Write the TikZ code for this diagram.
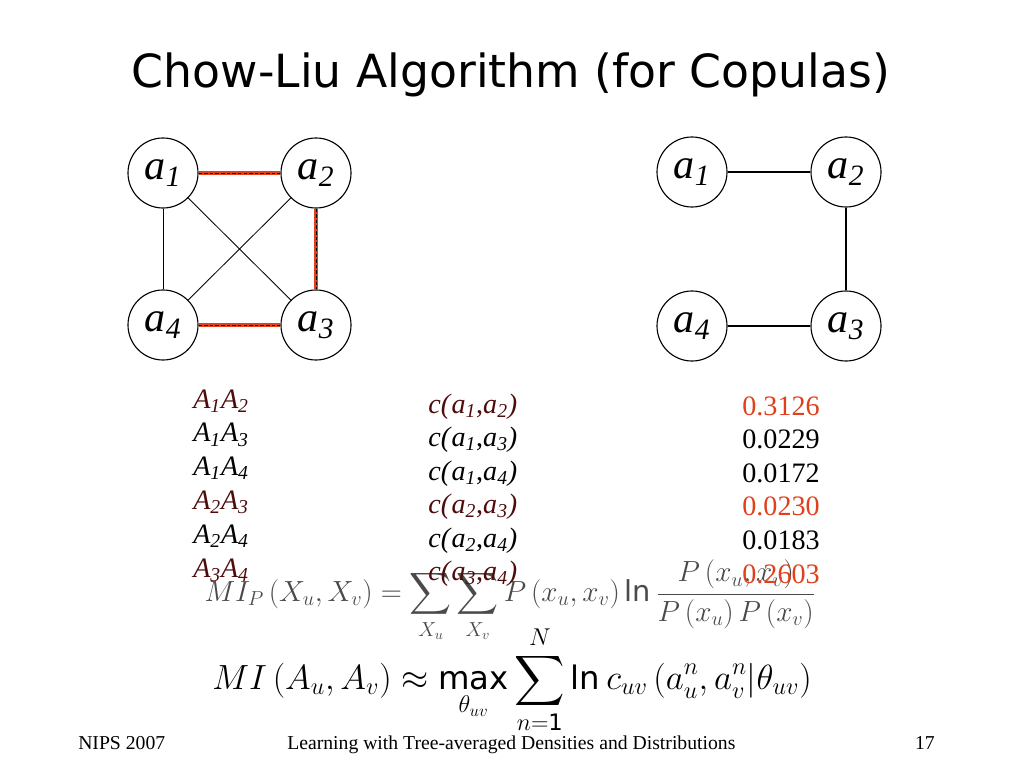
\documentclass[tikz,border=0pt]{standalone}
\usepackage{amsmath}
\usepackage{fontspec}
\setmainfont{Liberation Serif}
\setsansfont{DejaVu Sans}
\usepackage{tikz}
\definecolor{EdgeRed}{HTML}{E0401C}
\definecolor{RowRed}{HTML}{4E0B0B}
\definecolor{FormGray}{HTML}{4A4A4A}
\newcommand{\vlab}[2]{\textit{#1\textsubscript{#2}}}
\tikzset{
  var/.style={circle,draw,line width=0.8pt,minimum size=1.75cm,inner sep=0pt,
              font=\fontsize{30}{36}\selectfont},
  edge/.style={line width=0.6pt},
  picked/.style={EdgeRed,line width=2.8pt},
  pickdash/.style={black,line width=0.5pt,dash pattern=on 2.5pt off 1.5pt},
  tree/.style={line width=1.4pt},
  cell/.style={inner sep=0pt,font=\fontsize{20}{24}\selectfont},
  foot/.style={inner sep=0pt,anchor=base west,font=\fontsize{14}{17}\selectfont}
}

\begin{document}
\begin{tikzpicture}[x=0.025cm,y=-0.025cm]
\fill[white] (0,0) rectangle (1024,768);
\node[anchor=base,inner sep=0pt,font=\sffamily\fontsize{32.5}{39}\selectfont]
      (title) at (511,88) {Chow-Liu Algorithm (for Copulas)};

% complete graph, chosen edges in red
\node[var] (a1) at (163,173) {\vlab{a}{1}};
\node[var] (a2) at (316,173) {\vlab{a}{2}};
\node[var] (a4) at (163,325) {\vlab{a}{4}};
\node[var] (a3) at (316,325) {\vlab{a}{3}};
\foreach \u/\v in {a1/a4,a1/a3,a2/a4}
  \draw[edge] (\u) -- (\v);
\foreach \u/\v in {a1/a2,a2/a3,a4/a3} {
  \draw[picked] (\u) -- (\v);
  \draw[pickdash] (\u) -- (\v);
}

% resulting tree
\node[var] (b1) at (692,172) {\vlab{a}{1}};
\node[var] (b2) at (846,172) {\vlab{a}{2}};
\node[var] (b4) at (692,326) {\vlab{a}{4}};
\node[var] (b3) at (846,326) {\vlab{a}{3}};
\draw[tree] (b1) -- (b2);
\draw[tree] (b2) -- (b3);
\draw[tree] (b4) -- (b3);

% formulas
\node[text=FormGray,inner sep=0pt,font=\fontsize{20.5}{25}\selectfont]
      (mip) at (510,601)
      {$\displaystyle MI_P\left(X_u,X_v\right)=\sum_{X_u}\sum_{X_v}P\left(x_u,x_v\right)
        \mathsf{ln}\,\frac{P\left(x_u,x_v\right)}{P\left(x_u\right)P\left(x_v\right)}$};
\node[inner sep=0pt,font=\fontsize{23}{28}\selectfont] (mia) at (512,680)
      {$\displaystyle MI\left(A_u,A_v\right)\approx\mathop{\mathsf{max}}\limits_{\theta_{uv}}
        \sum_{n=\mathsf{1}}^{N}\mathsf{ln}\,c_{uv}\left(a_u^n,a_v^n|\theta_{uv}\right)$};

% pairwise scores
\foreach \i/\u/\v/\val/\lc/\vc in {0/1/2/0.3126/RowRed/EdgeRed,1/1/3/0.0229/black/black,
    2/1/4/0.0172/black/black,3/2/3/0.0230/RowRed/EdgeRed,4/2/4/0.0183/black/black,
    5/3/4/0.2603/RowRed/EdgeRed} {
  \node[cell,anchor=base west,text=\lc] (pair\i) at (193,408+33.8*\i)
        {\vlab{A}{\u}\vlab{A}{\v}};
  \node[cell,anchor=base west,text=\lc] (cost\i) at (428,413+33.5*\i)
        {\textit{c(}\vlab{a}{\u},\vlab{a}{\v}\textit{)}};
  \node[cell,anchor=base east,text=\vc] (mi\i) at (820,415+33.6*\i) {\val};
}

% footer
\node[foot] (conf) at (78,749) {NIPS 2007};
\node[foot] (talk) at (287,749) {Learning with Tree-averaged Densities and Distributions};
\node[foot,anchor=base east] (page) at (935,749) {17};
\end{tikzpicture}
\end{document}
